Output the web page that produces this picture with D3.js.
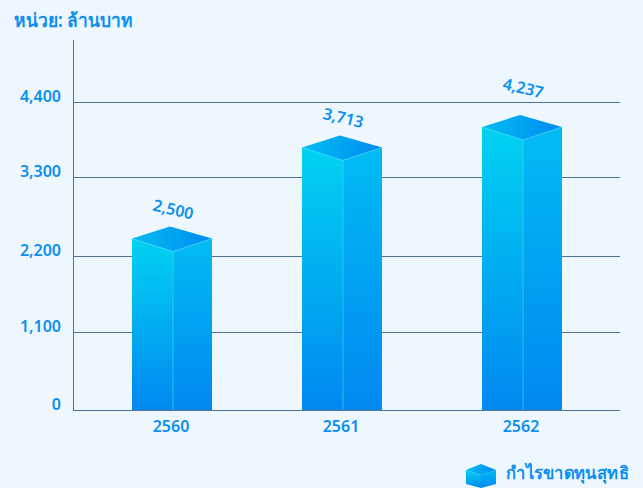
<!DOCTYPE html>
<html><head><meta charset="utf-8">
<script src="https://cdn.jsdelivr.net/npm/d3@7/dist/d3.min.js"></script>
<style>html,body{margin:0;padding:0;background:#eef7fe;overflow:hidden}svg{display:block}text{font-family:"Noto Sans",Inter,sans-serif;fill:#0b8ff0;font-weight:600}</style>
</head><body><svg id="c" width="643" height="488"></svg>
<script>
const categories = ["2560","2561","2562"];
const valueLabels = [2500,3713,4237];
const drawnHeights = [2450,3740,4040];
const tickValues = [0,1100,2200,3300,4400];
const unitLabel = "หน่วย: ล้านบาท";
const seriesName = "กำไรขาดทุนสุทธิ";

const svg = d3.select("#c");
const defs = svg.append("defs");
function grad(id,x1,y1,x2,y2,a,b){const g=defs.append("linearGradient").attr("id",id).attr("x1",x1).attr("y1",y1).attr("x2",x2).attr("y2",y2);
 g.append("stop").attr("offset",0).attr("stop-color",a);g.append("stop").attr("offset",1).attr("stop-color",b);}
grad("front",0,0,0,1,"#02d2f2","#0088f0");
grad("side",0,0,0,1,"#01bcf4","#0088f0");
grad("top",0,0,1,0,"#02bdf2","#008af0");

const y = d3.scaleLinear().domain(tickValues).range([410.5,332.5,256.5,177.5,102.5]);
const xPos = d3.scaleOrdinal().domain(categories).range([172,342,522]);
const fmt = d3.format(",");
const labelLift = [20,26,20];

const grid = svg.append("g");
tickValues.forEach(t=>{
  grid.append("line").attr("x1",73).attr("x2",620).attr("y1",y(t)).attr("y2",y(t)).attr("stroke","#4f7396").attr("stroke-width",1);
  svg.append("text").attr("x",61).attr("y",y(t)-4.5).attr("text-anchor","end").attr("dominant-baseline","middle").attr("font-size",16).text(fmt(t));
});
grid.append("line").attr("x1",73.5).attr("x2",73.5).attr("y1",40).attr("y2",411).attr("stroke","#4f7396");

categories.forEach((c,i)=>{
  const cx=xPos(c), ty=y(drawnHeights[i]), by=y(0)-0.5;
  const g=svg.append("g");
  g.append("path").attr("d",`M${cx-40},${ty}L${cx+1},${ty+13}L${cx+1},${by}L${cx-40},${by}Z`).attr("fill","url(#front)");
  g.append("path").attr("d",`M${cx+1},${ty+13}L${cx+40},${ty}L${cx+40},${by}L${cx+1},${by}Z`).attr("fill","url(#side)");
  g.append("path").attr("d",`M${cx-40},${ty}L${cx-2},${ty-12}L${cx+40},${ty}L${cx+1},${ty+13}Z`).attr("fill","url(#top)");
  g.append("path").attr("d",`M${cx-40},${ty}L${cx+1},${ty+13}L${cx+40},${ty}M${cx+1},${ty+13}L${cx+1},${by}`).attr("fill","none").attr("stroke","#3fdcf8").attr("stroke-opacity",.6).attr("stroke-width",1);
  svg.append("text").attr("text-anchor","middle").attr("font-size",16)
    .attr("transform",`translate(${cx},${y(valueLabels[i])-labelLift[i]}) rotate(13)`).text(fmt(valueLabels[i]));
  svg.append("text").attr("x",cx-1).attr("y",432).attr("text-anchor","middle").attr("font-size",16).text(c);
});

svg.append("text").attr("x",14).attr("y",27).attr("font-size",19).attr("textLength",119).attr("lengthAdjust","spacingAndGlyphs").text(unitLabel);
const lg=svg.append("g").attr("transform","translate(466,464)");
lg.append("path").attr("d","M0,6L15,11L15,24L0,20Z").attr("fill","url(#front)");
lg.append("path").attr("d","M15,11L30,6L30,20L15,24Z").attr("fill","url(#side)");
lg.append("path").attr("d","M0,6L15,0L30,6L15,11Z").attr("fill","url(#top)");
svg.append("text").attr("x",506).attr("y",479).attr("font-size",17.5).attr("textLength",123).attr("lengthAdjust","spacingAndGlyphs").text(seriesName);
</script></body></html>
